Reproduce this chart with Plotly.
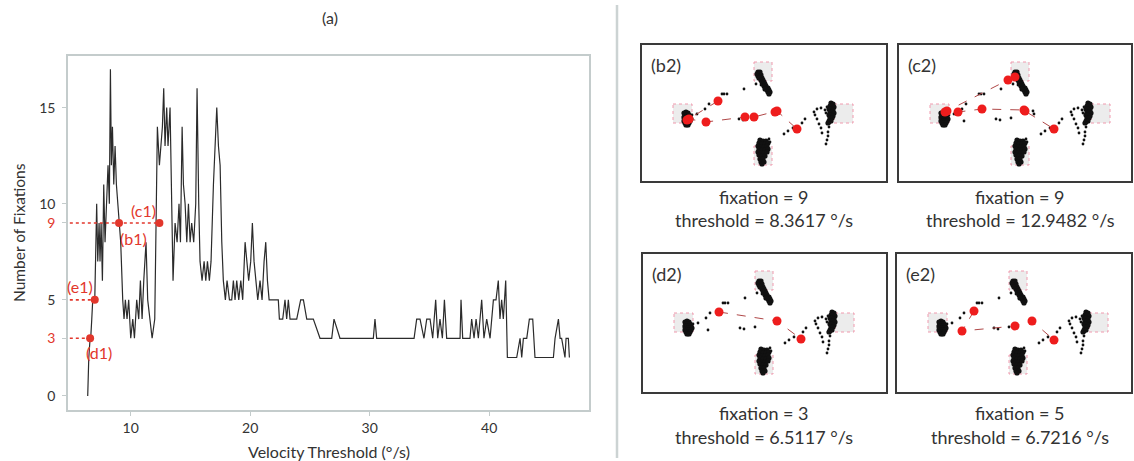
import plotly.graph_objects as go

W, H = 1134, 461

# ---------------- data: panel (a) ----------------
VEL_X = [6.40, 6.49, 6.60, 6.65, 6.74, 6.82, 6.99, 7.07, 7.15, 7.24, 7.35, 7.43, 7.52, 7.63, 7.74, 7.85,
         7.99, 8.10, 8.21, 8.30, 8.38, 8.47, 8.58, 8.69, 8.80, 8.91, 9.02, 9.16, 9.33, 9.44, 9.55, 9.69,
         9.83, 10.00, 10.17, 10.31, 10.50, 10.67, 10.81, 10.95, 11.09, 11.28, 11.42, 11.62, 11.79, 12.01,
         12.23, 12.40, 12.51, 12.65, 12.76, 12.87, 13.01, 13.12, 13.29, 13.40, 13.54, 13.71, 13.88, 14.04,
         14.16, 14.30, 14.41, 14.55, 14.69, 14.83, 14.97, 15.10, 15.27, 15.44, 15.55, 15.69, 15.80, 15.97,
         16.14, 16.28, 16.42, 16.58, 16.72, 16.92, 17.06, 17.20, 17.34, 17.48, 17.62, 17.75, 17.92, 18.06,
         18.26, 18.45, 18.59, 18.73, 18.87, 19.04, 19.21, 19.37, 19.57, 19.71, 19.87, 20.04, 20.18, 20.32,
         20.49, 20.63, 20.82, 20.99, 21.16, 21.30, 21.44, 21.58, 21.88, 22.35, 22.44, 22.72, 22.91, 23.05,
         23.19, 23.33, 23.89, 24.22, 24.45, 24.73, 25.28, 25.84, 26.82, 27.01, 27.51, 30.30, 30.44, 30.58,
         33.71, 33.93, 34.21, 34.54, 34.77, 35.05, 35.27, 35.52, 35.69, 35.88, 36.08, 36.25, 36.44, 37.56,
         37.64, 37.78, 38.39, 38.53, 38.73, 38.90, 39.09, 39.37, 39.56, 39.79, 40.07, 40.35, 40.57, 40.76,
         40.90, 41.04, 41.18, 41.38, 41.52, 42.30, 42.58, 42.72, 42.86, 43.14, 43.36, 43.64, 43.83, 45.37,
         45.51, 45.79, 45.93, 46.06, 46.34, 46.43, 46.62, 46.71]
FIX_N = [0, 2, 3, 3, 4, 5, 5, 7, 10, 7, 9, 7, 9, 6, 11, 8,
         11, 12, 10, 17, 12, 14, 11, 13, 11, 10, 9, 8, 5, 4, 5, 4,
         5, 3, 4, 3, 5, 4, 6, 4, 6, 8, 5, 4, 3, 4,
         14, 12, 13, 14, 16, 13, 15, 13, 15, 11, 6, 9, 8, 10,
         8, 14, 11, 10, 8, 10, 8, 9, 8, 10, 16, 10, 7, 6,
         7, 6, 7, 6, 7, 11, 13, 15, 13, 12, 8, 6, 5, 6,
         5, 5, 6, 5, 6, 5, 6, 5, 8, 7, 6, 7, 9, 7,
         6, 5, 6, 5, 7, 8, 6, 5, 5, 5, 4, 4, 5, 4,
         5, 4, 4, 5, 5, 4, 4, 3, 3, 4, 3, 3, 4, 3,
         3, 4, 4, 3, 4, 4, 3, 5, 3, 4, 3, 5, 3, 3,
         5, 3, 3, 4, 3, 4, 3, 5, 3, 4, 3, 5, 5, 6,
         4, 5, 4, 6, 2, 2, 3, 2, 3, 3, 4, 4, 2, 2,
         3, 4, 3, 3, 2, 3, 3, 2]

X_TICKS = [10, 20, 30, 40]
Y_TICKS = [0, 3, 5, 9, 10, 15]
Y_HIGHLIGHT = [3, 9]

MARK_NAMES = ["(b1)", "(c1)", "(d1)", "(e1)"]
MARK_X = [9.02, 12.40, 6.60, 6.99]
MARK_Y = [9, 9, 3, 5]

# ---------------- data: panels (b2)-(e2) ----------------
PANEL_NAMES = ["(b2)", "(c2)", "(d2)", "(e2)"]
PANEL_FIX = [9, 9, 3, 5]
PANEL_THR = ["8.3617", "12.9482", "6.5117", "6.7216"]

AOI_X0 = [112, 31, 192, 112]
AOI_X1 = [130, 50, 211, 130]
AOI_Y0 = [17, 59, 59, 101]
AOI_Y1 = [36, 78, 78, 120]

# dense gaze clusters
BLOB_X = [116, 118, 115, 117, 119, 116, 118, 120, 117, 119, 121, 120, 122, 121, 123, 122, 124, 124, 126,
          125, 127, 126, 128, 127, 123,
          42, 44, 46, 43, 45, 47, 42, 44, 46, 48, 43, 45, 47, 49, 42, 44, 46, 48, 43, 45, 47, 44, 46,
          118, 121, 124, 117, 120, 123, 126, 116, 119, 122, 125, 117, 120, 123, 126, 116, 119, 122, 125,
          117, 120, 123, 118, 121, 119, 122, 120,
          189, 191, 188, 190, 192, 187, 189, 191, 188, 190, 192, 187, 189, 191, 188, 190, 187, 189, 186]
BLOB_Y = [27, 27, 29, 29, 30, 31, 32, 33, 33, 35, 35, 37, 37, 39, 39, 41, 41, 43, 43,
          45, 45, 47, 47, 49, 44,
          68, 67, 68, 70, 70, 70, 72, 72, 72, 72, 74, 74, 74, 74, 76, 76, 76, 76, 78, 78, 78, 80, 80,
          95, 96, 96, 98, 99, 99, 98, 101, 102, 102, 101, 104, 105, 105, 104, 107, 108, 108, 107,
          110, 111, 111, 114, 114, 117, 117, 119,
          58, 59, 61, 61, 62, 64, 64, 65, 67, 67, 68, 70, 70, 71, 73, 73, 76, 76, 78]

# sparse gaze samples (saccades)
STRAY_X = [119, 114, 102, 85, 82, 80, 67, 63, 55, 65, 97, 101, 112, 50, 41, 128, 127,
           185, 183, 184, 172, 173, 175, 177, 179, 180, 175, 179,
           188, 187, 186, 186, 185, 184, 142, 146, 151, 160, 163, 134, 135]
STRAY_Y = [40, 39, 44, 49, 49, 49, 59, 64, 69, 76, 74, 75, 73, 70, 74, 97, 94,
           62, 65, 68, 67, 70, 74, 79, 83, 88, 64, 63,
           78, 82, 87, 91, 95, 99, 89, 86, 83, 78, 74, 66, 69]

B2_FX = [76, 45, 47, 64, 103, 112, 133, 135, 155]
B2_FY = [56, 75, 74, 77, 72, 72, 67, 66, 84]
C2_FX = [116, 109, 46, 48, 59, 83, 125, 126, 155]
C2_FY = [32, 35, 67, 66, 67, 64, 65, 66, 84]
D2_FX = [76, 134, 158]
D2_FY = [58, 67, 85]
E2_FX = [77, 65, 118, 135, 157]
E2_FY = [57, 77, 72, 67, 86]

# ---------------- layout helpers ----------------
FONT = "Lato, 'Open Sans', sans-serif"
RED = "#e2372c"
GRID_GRAY = "#c4cccc"
TXT = "#333333"


def px_x(p):
    return p / W


def px_y(p):
    return 1 - p / H


MAIN_BOX = (68, 55.7, 589, 410)  # left, top, right, bottom (pixels)
PANEL_BOXES = [(642, 45, 886, 181), (899, 45, 1131, 181), (643, 254, 886, 392), (897, 254, 1131, 392)]
LABEL_CENTERS = [(764, 197, 220), (1020, 197, 220), (764, 413, 437), (1020, 413, 437)]

fig = go.Figure()

fig.add_trace(go.Scatter(x=VEL_X, y=FIX_N, mode="lines", line=dict(color="#2b2b2b", width=1.2),
                         xaxis="x", yaxis="y", showlegend=False, hoverinfo="skip"))

XMIN, XMAX = 4.75, 48.35
YMIN, YMAX = -0.73, 17.7

guide_pairs = {}
for mx, my in zip(MARK_X, MARK_Y):
    guide_pairs[my] = max(guide_pairs.get(my, 0), mx)
for my, mx in guide_pairs.items():
    fig.add_trace(go.Scatter(x=[XMIN - 0.35, mx], y=[my, my], mode="lines",
                             line=dict(color=RED, width=1.6, dash="dot"), cliponaxis=False,
                             xaxis="x", yaxis="y", showlegend=False, hoverinfo="skip"))
fig.add_trace(go.Scatter(x=MARK_X, y=MARK_Y, mode="markers", marker=dict(color=RED, size=8),
                         xaxis="x", yaxis="y", showlegend=False, hoverinfo="skip"))

label_shift = {"(b1)": (14, -16), "(c1)": (-16, 12), "(d1)": (9, -14), "(e1)": (-15, 13)}
annotations = []
for name, mx, my in zip(MARK_NAMES, MARK_X, MARK_Y):
    dx, dy = label_shift[name]
    annotations.append(dict(x=mx, y=my, xref="x", yref="y", text=name, showarrow=False,
                            xanchor="center", yanchor="middle",
                            xshift=dx, yshift=dy, font=dict(family=FONT, size=16, color=RED)))

ticktext = []
for v in Y_TICKS:
    if v in Y_HIGHLIGHT:
        ticktext.append(f'<span style="color:{RED}">{v}</span>')
    else:
        ticktext.append(str(v))

layout = dict(
    width=W, height=H, autosize=False,
    margin=dict(l=0, r=0, t=0, b=0),
    paper_bgcolor="white", plot_bgcolor="white",
    showlegend=False,
    xaxis=dict(domain=[px_x(MAIN_BOX[0]), px_x(MAIN_BOX[2])], range=[XMIN, XMAX],
               tickvals=X_TICKS, ticks="outside", ticklen=4, tickcolor=GRID_GRAY,
               showline=True, linecolor=GRID_GRAY, linewidth=1.5, mirror=True,
               showgrid=False, zeroline=False, anchor="y",
               tickfont=dict(family=FONT, size=14, color=TXT)),
    yaxis=dict(domain=[px_y(MAIN_BOX[3]), px_y(MAIN_BOX[1])], range=[YMIN, YMAX],
               tickvals=Y_TICKS, ticktext=ticktext, ticks="outside", ticklen=4, tickcolor=GRID_GRAY,
               showline=True, linecolor=GRID_GRAY, linewidth=1.5, mirror=True,
               showgrid=False, zeroline=False, anchor="x", ticklabelstandoff=4,
               tickfont=dict(family=FONT, size=14, color=TXT)),
)


def centered(xp, yp, text, size, **kw):
    d = dict(x=px_x(xp), y=px_y(yp), xref="paper", yref="paper", text=text, showarrow=False,
             xanchor="center", yanchor="middle", font=dict(family=FONT, size=size, color=TXT))
    d.update(kw)
    return d


annotations.append(centered(330, 18, "(a)", 16))
annotations.append(centered(19, 233, "Number of Fixations", 15.5, textangle=-90))
annotations.append(centered(329, 451, "Velocity Threshold (°/s)", 16))

shapes = [dict(type="line", xref="paper", yref="paper", x0=px_x(617), x1=px_x(617), y0=px_y(5), y1=px_y(458),
               line=dict(color="#ccd3d3", width=2.5))]

fix_sets = [(B2_FX, B2_FY), (C2_FX, C2_FY), (D2_FX, D2_FY), (E2_FX, E2_FY)]
for i, (box, (fx, fy)) in enumerate(zip(PANEL_BOXES, fix_sets)):
    k = i + 2
    xa, ya = f"x{k}", f"y{k}"
    bw, bh = box[2] - box[0], box[3] - box[1]
    layout[f"xaxis{k}"] = dict(domain=[px_x(box[0]), px_x(box[2])], range=[0, bw], anchor=ya,
                               showline=True, mirror=True, linecolor="#3a3a3a", linewidth=2.2,
                               showticklabels=False, ticks="", showgrid=False, zeroline=False)
    layout[f"yaxis{k}"] = dict(domain=[px_y(box[3]), px_y(box[1])], range=[bh, 0], anchor=xa,
                               showline=True, mirror=True, linecolor="#3a3a3a", linewidth=2.2,
                               showticklabels=False, ticks="", showgrid=False, zeroline=False)
    for x0, x1, y0, y1 in zip(AOI_X0, AOI_X1, AOI_Y0, AOI_Y1):
        shapes.append(dict(type="rect", xref=xa, yref=ya, x0=x0, x1=x1, y0=y0, y1=y1, layer="below",
                           fillcolor="#ececec", line=dict(color="#f09aae", width=1, dash="dot")))
    fig.add_trace(go.Scatter(x=BLOB_X, y=BLOB_Y, mode="markers", xaxis=xa, yaxis=ya,
                             marker=dict(color="#111111", size=5.2, line=dict(width=0)),
                             showlegend=False, hoverinfo="skip"))
    fig.add_trace(go.Scatter(x=STRAY_X, y=STRAY_Y, mode="markers", xaxis=xa, yaxis=ya,
                             marker=dict(color="#111111", size=2.8, line=dict(width=0)),
                             showlegend=False, hoverinfo="skip"))
    fig.add_trace(go.Scatter(x=fx, y=fy, mode="lines", xaxis=xa, yaxis=ya,
                             line=dict(color="#b04848", width=1, dash="dash"),
                             showlegend=False, hoverinfo="skip"))
    fig.add_trace(go.Scatter(x=fx, y=fy, mode="markers", xaxis=xa, yaxis=ya,
                             marker=dict(color="#ee1d1d", size=9, line=dict(width=0)),
                             showlegend=False, hoverinfo="skip"))
    annotations.append(dict(x=px_x(box[0] + 7), y=px_y(box[1] + 20), xref="paper", yref="paper",
                            text=PANEL_NAMES[i], showarrow=False, xanchor="left", yanchor="middle",
                            font=dict(family=FONT, size=18, color=TXT)))
    cx, y1, y2 = LABEL_CENTERS[i]
    annotations.append(centered(cx, y1, f"fixation = {PANEL_FIX[i]}", 18))
    annotations.append(centered(cx, y2, f"threshold = {PANEL_THR[i]} °/s", 18))

layout["annotations"] = annotations
layout["shapes"] = shapes
fig.update_layout(**layout)
fig.write_html("out.html")
